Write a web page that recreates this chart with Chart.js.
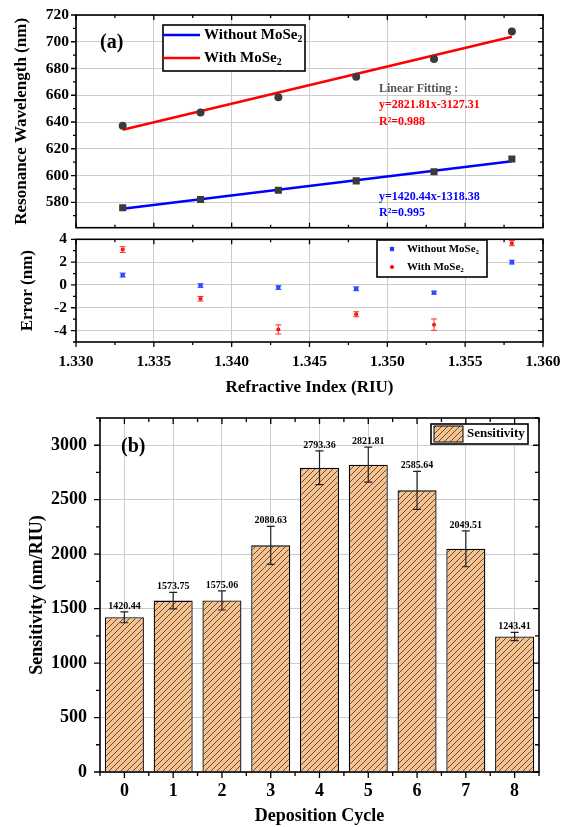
<!DOCTYPE html>
<html><head><meta charset="utf-8">
<script src="https://cdn.jsdelivr.net/npm/chart.js@4.4.1/dist/chart.umd.min.js"></script>
<style>
html,body{margin:0;padding:0;background:#fff;}
body{width:575px;height:827px;position:relative;overflow:hidden;}
canvas{position:absolute;left:0;}
</style></head><body>
<canvas id="cA" width="575" height="240" style="top:0"></canvas>
<canvas id="cE" width="575" height="185" style="top:225px"></canvas>
<canvas id="cB" width="575" height="427" style="top:400px"></canvas>
<script>
// ---------------- data ----------------
const refractiveIndex = [1.333, 1.338, 1.343, 1.348, 1.353, 1.358];
const wavelengthWithout = [575.9, 582.1, 589.0, 596.0, 602.8, 612.4];
const wavelengthWith = [637.3, 647.1, 658.5, 673.9, 687.1, 707.6];
const fitRange = [1.333, 1.358];
const fitLineWithout = [575.1, 610.6];
const fitLineWith = [634.2, 703.7];
const residualWithout = [0.87, -0.06, -0.23, -0.34, -0.68, 2.0];
const residualWithoutErr = [0.17, 0.17, 0.17, 0.17, 0.12, 0.17];
const residualWith = [3.1, -1.21, -3.9, -2.57, -3.48, 3.66];
const residualWithErr = [0.25, 0.2, 0.4, 0.22, 0.5, 0.22];
const depositionCycle = ['0', '1', '2', '3', '4', '5', '6', '7', '8'];
const sensitivity = [1420.44, 1573.75, 1575.06, 2080.63, 2793.36, 2821.81, 2585.64, 2049.51, 1243.41];
const sensitivityErr = [50, 76, 88, 175, 155, 160, 174, 165, 38];
const wavelengthTicks = [580, 600, 620, 640, 660, 680, 700, 720];
const errorTicks = [-4, -2, 0, 2, 4];
const riTicks = [1.330, 1.335, 1.340, 1.345, 1.350, 1.355, 1.360];
const sensitivityTicks = [0, 500, 1000, 1500, 2000, 2500, 3000];
const cycleTicks = [0, 1, 2, 3, 4, 5, 6, 7, 8];

// ---------------- helpers ----------------
const SERIF = "'Liberation Serif','Times New Roman',serif";
Chart.defaults.font.family = SERIF;
Chart.defaults.font.weight = 'bold';
Chart.defaults.color = '#000';
const GRID = '#cccccc';
const pts = (xs, ys) => xs.map((x, i) => ({x: x, y: ys[i]}));
const fixedTicks = arr => (s => { s.ticks = arr.map(v => ({value: v})); });
const plain = v => String(v);

function richText(ctx, text, x, y, size, color, align) {
  const parts = []; let buf = '', sub = false;
  for (const ch of text) {
    const code = ch.codePointAt(0);
    const isSub = code >= 0x2080 && code <= 0x2089;
    const c = isSub ? String.fromCharCode(48 + code - 0x2080) : ch;
    if (isSub !== sub && buf) { parts.push([buf, sub]); buf = ''; }
    sub = isSub; buf += c;
  }
  if (buf) parts.push([buf, sub]);
  const fontOf = s => 'bold ' + s + 'px ' + SERIF;
  let w = 0;
  for (const [t, s] of parts) { ctx.font = fontOf(s ? size * 0.65 : size); w += ctx.measureText(t).width; }
  let cx = align === 'center' ? x - w / 2 : x;
  ctx.fillStyle = color; ctx.textAlign = 'left'; ctx.textBaseline = 'middle';
  for (const [t, s] of parts) {
    ctx.font = fontOf(s ? size * 0.65 : size);
    ctx.fillText(t, cx, s ? y + size * 0.3 : y);
    cx += ctx.measureText(t).width;
  }
  return w;
}

function minorsOf(majors, lo, hi) {
  const step = (majors[1] - majors[0]) / 2, res = [];
  for (let v = majors[0] - step; v >= lo - 1e-9; v -= 2 * step) res.push(v);
  for (let v = majors[0] + step; v <= hi + 1e-9; v += 2 * step) res.push(v);
  return res;
}

const framePlugin = {
  id: 'frame',
  afterDraw(chart, args, o) {
    if (!o || !o.sides) return;
    const {ctx, chartArea: a} = chart;
    const xs = chart.scales.x, ys = chart.scales.y;
    const M = o.majorLen || 5, m = o.minorLen || 3;
    const xv = o.xMajor.map(v => [v, M]).concat(minorsOf(o.xMajor, o.xLo, o.xHi).map(v => [v, m]));
    const yv = o.yMajor.map(v => [v, M]).concat(minorsOf(o.yMajor, ys.min, ys.max).map(v => [v, m]));
    ctx.save();
    ctx.strokeStyle = '#000'; ctx.lineWidth = 1.3;
    ctx.beginPath();
    const S = o.sides;
    xv.forEach(([v, L]) => {
      const p = xs.getPixelForValue(v);
      if (p < a.left - 0.5 || p > a.right + 0.5) return;
      if (S.bottom === 'out') { ctx.moveTo(p, a.bottom); ctx.lineTo(p, a.bottom + L); }
      if (S.bottom === 'in') { ctx.moveTo(p, a.bottom); ctx.lineTo(p, a.bottom - L); }
      if (S.top === 'in') { ctx.moveTo(p, a.top); ctx.lineTo(p, a.top + L); }
    });
    yv.forEach(([v, L]) => {
      const p = ys.getPixelForValue(v);
      if (S.left === 'out') { ctx.moveTo(a.left, p); ctx.lineTo(a.left - L, p); }
      if (S.right === 'in') { ctx.moveTo(a.right, p); ctx.lineTo(a.right - L, p); }
    });
    ctx.stroke();
    ctx.lineWidth = 1.6;
    ctx.strokeRect(a.left, a.top, a.right - a.left, a.bottom - a.top);
    ctx.restore();
  }
};

const errorBarPlugin = {
  id: 'errorBars',
  afterDatasetsDraw(chart) {
    const {ctx} = chart; const ys = chart.scales.y;
    chart.data.datasets.forEach((ds, di) => {
      if (!ds.errors) return;
      const meta = chart.getDatasetMeta(di);
      ctx.save();
      ctx.strokeStyle = ds.errorColor; ctx.lineWidth = ds.errorWidth || 1;
      meta.data.forEach((el, i) => {
        const d = ds.data[i]; const val = (typeof d === 'object') ? d.y : d;
        const e = ds.errors[i];
        const x = el.x, yt = ys.getPixelForValue(val + e), yb = ys.getPixelForValue(val - e);
        const cw = ds.capHalf || 3;
        ctx.beginPath();
        ctx.moveTo(x, yt); ctx.lineTo(x, yb);
        ctx.moveTo(x - cw, yt); ctx.lineTo(x + cw, yt);
        ctx.moveTo(x - cw, yb); ctx.lineTo(x + cw, yb);
        ctx.stroke();
        if (ds.valueLabels) {
          ctx.fillStyle = '#000'; ctx.font = 'bold 10px ' + SERIF;
          ctx.textAlign = 'center'; ctx.textBaseline = 'alphabetic';
          ctx.fillText(val.toFixed(2), x, yt - 3);
        }
      });
      ctx.restore();
    });
  }
};

const boxLegendPlugin = {
  id: 'boxLegend',
  afterDraw(chart, args, o) {
    if (!o || !o.box) return;
    const {ctx} = chart; const [bx, by, bw, bh] = o.box;
    ctx.save();
    ctx.fillStyle = '#fff'; ctx.fillRect(bx, by, bw, bh);
    ctx.strokeStyle = '#000'; ctx.lineWidth = 1.6; ctx.strokeRect(bx, by, bw, bh);
    const items = chart.data.datasets.filter(d => d.inLegend);
    items.forEach((d, i) => {
      const cy = by + o.firstY + i * o.rowH;
      if (o.kind === 'line') {
        ctx.strokeStyle = d.borderColor; ctx.lineWidth = 2.5;
        ctx.beginPath(); ctx.moveTo(bx + o.s0, cy); ctx.lineTo(bx + o.s1, cy); ctx.stroke();
      } else if (o.kind === 'point') {
        ctx.fillStyle = d.backgroundColor;
        const r = d.pointRadius;
        if (d.pointStyle === 'rect') { const h = r * Math.SQRT1_2; ctx.fillRect(bx + o.s0 - h, cy - h, 2 * h, 2 * h); }
        else { ctx.beginPath(); ctx.arc(bx + o.s0, cy, r, 0, Math.PI * 2); ctx.fill(); }
      } else if (o.kind === 'patch') {
        ctx.fillStyle = d.backgroundColor;
        ctx.fillRect(bx + o.s0, by + 2, o.s1 - o.s0, bh - 4);
        ctx.strokeStyle = '#000'; ctx.lineWidth = 1;
        ctx.strokeRect(bx + o.s0, by + 2, o.s1 - o.s0, bh - 4);
      }
      richText(ctx, d.label, bx + o.tx, cy, o.size, '#000', 'left');
    });
    ctx.restore();
  }
};

const notesPlugin = {
  id: 'notes',
  afterDraw(chart, args, o) {
    if (!o || !o.items) return;
    const {ctx} = chart;
    ctx.save();
    o.items.forEach(it => richText(ctx, it.text, it.x, it.y, it.size || 12, it.color || '#000', 'left'));
    ctx.restore();
  }
};

function makeHatch() {
  const c = document.createElement('canvas'); c.width = 6; c.height = 6;
  const g = c.getContext('2d');
  g.fillStyle = '#F8C28E'; g.fillRect(0, 0, 6, 6);
  g.strokeStyle = '#4a4038'; g.lineWidth = 0.9;
  g.beginPath();
  g.moveTo(-1, 7); g.lineTo(7, -1);
  g.moveTo(-4, 4); g.lineTo(4, -4);
  g.moveTo(2, 10); g.lineTo(10, 2);
  g.stroke();
  return g.createPattern(c, 'repeat');
}

const plugins = [framePlugin, errorBarPlugin, boxLegendPlugin, notesPlugin];
const base = {responsive: false, animation: false, devicePixelRatio: 1};

// ---------------- (a) resonance wavelength ----------------
new Chart(document.getElementById('cA'), {
  type: 'scatter',
  data: {datasets: [
    {label: 'Without MoSe₂ (data)', data: pts(refractiveIndex, wavelengthWithout), pointStyle: 'rect', pointRadius: 5, backgroundColor: '#3a3a3a', borderWidth: 0},
    {label: 'With MoSe₂ (data)', data: pts(refractiveIndex, wavelengthWith), pointStyle: 'circle', pointRadius: 4, backgroundColor: '#3a3a3a', borderWidth: 0},
    {label: 'Without MoSe₂', inLegend: true, data: pts(fitRange, fitLineWithout), showLine: true, borderColor: '#0000ff', borderWidth: 2.5, pointRadius: 0},
    {label: 'With MoSe₂', inLegend: true, data: pts(fitRange, fitLineWith), showLine: true, borderColor: '#ff0000', borderWidth: 2.5, pointRadius: 0}
  ]},
  options: Object.assign({}, base, {
    layout: {padding: {left: 0, right: 32, top: 15, bottom: 5}},
    plugins: {
      legend: {display: false}, tooltip: {enabled: false},
      frame: {sides: {left: 'out', right: 'in', top: 'in', bottom: 'in'}, xMajor: riTicks, xLo: 1.330, xHi: 1.360, yMajor: wavelengthTicks, majorLen: 5, minorLen: 3},
      boxLegend: {box: [163, 25, 142, 46], kind: 'line', firstY: 10, rowH: 23, s0: 0, s1: 37, tx: 41, size: 15},
      notes: {items: [
        {text: '(a)', x: 100, y: 43, size: 20},
        {text: 'Linear Fitting :', x: 379, y: 89, color: '#555555'},
        {text: 'y=2821.81x-3127.31', x: 379, y: 105, color: '#ff0000'},
        {text: 'R²=0.988', x: 379, y: 122, color: '#ff0000'},
        {text: 'y=1420.44x-1318.38', x: 379, y: 197, color: '#0000ff'},
        {text: 'R²=0.995', x: 379, y: 213, color: '#0000ff'}
      ]}
    },
    scales: {
      x: {type: 'linear', min: 1.330, max: 1.360, afterBuildTicks: fixedTicks(riTicks),
          ticks: {display: false}, grid: {color: GRID, drawTicks: false}, border: {display: false},
          afterFit: s => { s.height = 0; }},
      y: {type: 'linear', min: 561, max: 720, afterBuildTicks: fixedTicks(wavelengthTicks),
          ticks: {font: {size: 15.5, weight: 'bold'}, padding: 3, callback: plain},
          grid: {color: GRID, tickLength: 4, tickColor: 'rgba(0,0,0,0)'}, border: {display: false},
          title: {display: true, text: 'Resonance Wavelength (nm)', font: {size: 17, weight: 'bold'}, padding: {top: 11, bottom: 0}},
          afterFit: s => { s.width = 76; }}
    }
  }),
  plugins: plugins
});

// ---------------- (a) residual error ----------------
new Chart(document.getElementById('cE'), {
  type: 'scatter',
  data: {datasets: [
    {label: 'Without MoSe₂', inLegend: true, data: pts(refractiveIndex, residualWithout), pointStyle: 'rect', pointRadius: 3, backgroundColor: '#1f3cff', borderWidth: 0,
     errors: residualWithoutErr, errorColor: '#3b5bff', capHalf: 3},
    {label: 'With MoSe₂', inLegend: true, data: pts(refractiveIndex, residualWith), pointStyle: 'circle', pointRadius: 2, backgroundColor: '#ff0000', borderWidth: 0,
     errors: residualWithErr, errorColor: '#ff2a2a', capHalf: 3}
  ]},
  options: Object.assign({}, base, {
    layout: {padding: {left: 0, right: 32, top: 10, bottom: 8}},
    plugins: {
      legend: {display: false}, tooltip: {enabled: false},
      frame: {sides: {left: 'out', right: 'in', top: 'in', bottom: 'out'}, xMajor: riTicks, xLo: 1.330, xHi: 1.360, yMajor: errorTicks, majorLen: 5, minorLen: 3},
      boxLegend: {box: [377, 15, 110, 37], kind: 'point', firstY: 9, rowH: 18, s0: 15, tx: 30, size: 11}
    },
    scales: {
      x: {type: 'linear', min: 1.330, max: 1.360, afterBuildTicks: fixedTicks(riTicks),
          ticks: {font: {size: 15.5, weight: 'bold'}, padding: 6, maxRotation: 0, autoSkip: false, callback: v => Number(v).toFixed(3)},
          grid: {color: GRID, tickLength: 5, tickColor: 'rgba(0,0,0,0)'}, border: {display: false},
          title: {display: true, text: 'Refractive Index (RIU)', font: {size: 17, weight: 'bold'}, padding: {top: 0, bottom: 4}},
          afterFit: s => { s.height = 60; }},
      y: {type: 'linear', min: -5, max: 4, afterBuildTicks: fixedTicks(errorTicks),
          ticks: {font: {size: 15.5, weight: 'bold'}, padding: 5, callback: plain},
          grid: {color: GRID, tickLength: 4, tickColor: 'rgba(0,0,0,0)'}, border: {display: false},
          title: {display: true, text: 'Error (nm)', font: {size: 17, weight: 'bold'}, padding: {top: 17, bottom: 0}},
          afterFit: s => { s.width = 76; }}
    }
  }),
  plugins: plugins
});

// ---------------- (b) sensitivity ----------------
new Chart(document.getElementById('cB'), {
  type: 'bar',
  data: {labels: depositionCycle, datasets: [
    {label: 'Sensitivity', inLegend: true, data: sensitivity, backgroundColor: makeHatch(), borderColor: '#000', borderWidth: 1.3,
     barPercentage: 0.8, categoryPercentage: 1.0, errors: sensitivityErr, errorColor: '#222', errorWidth: 1.2, capHalf: 4, valueLabels: true}
  ]},
  options: Object.assign({}, base, {
    layout: {padding: {left: 0, right: 36, top: 18, bottom: 0}},
    plugins: {
      legend: {display: false}, tooltip: {enabled: false},
      frame: {sides: {left: 'out', right: 'in', top: 'in', bottom: 'out'}, xMajor: cycleTicks, xLo: -0.5, xHi: 8.5, yMajor: sensitivityTicks, majorLen: 6, minorLen: 4},
      boxLegend: {box: [431, 24, 97, 20], kind: 'patch', firstY: 10, rowH: 20, s0: 3, s1: 32, tx: 36, size: 13},
      notes: {items: [{text: '(b)', x: 121, y: 47, size: 20}]}
    },
    scales: {
      x: {type: 'category', grid: {offset: false, color: GRID, tickLength: 5, tickColor: 'rgba(0,0,0,0)'}, border: {display: false},
          ticks: {font: {size: 18, weight: 'bold'}, padding: 4, maxRotation: 0},
          title: {display: true, text: 'Deposition Cycle', font: {size: 18, weight: 'bold'}, padding: {top: 0, bottom: 0}},
          afterFit: s => { s.height = 55; }},
      y: {type: 'linear', min: 0, max: 3250, afterBuildTicks: fixedTicks(sensitivityTicks),
          ticks: {font: {size: 18, weight: 'bold'}, padding: 7, callback: plain},
          grid: {color: GRID, tickLength: 6, tickColor: 'rgba(0,0,0,0)'}, border: {display: false},
          title: {display: true, text: 'Sensitivity (nm/RIU)', font: {size: 18, weight: 'bold'}, padding: {top: 27, bottom: 0}},
          afterFit: s => { s.width = 100; }}
    }
  }),
  plugins: plugins
});
</script></body></html>
